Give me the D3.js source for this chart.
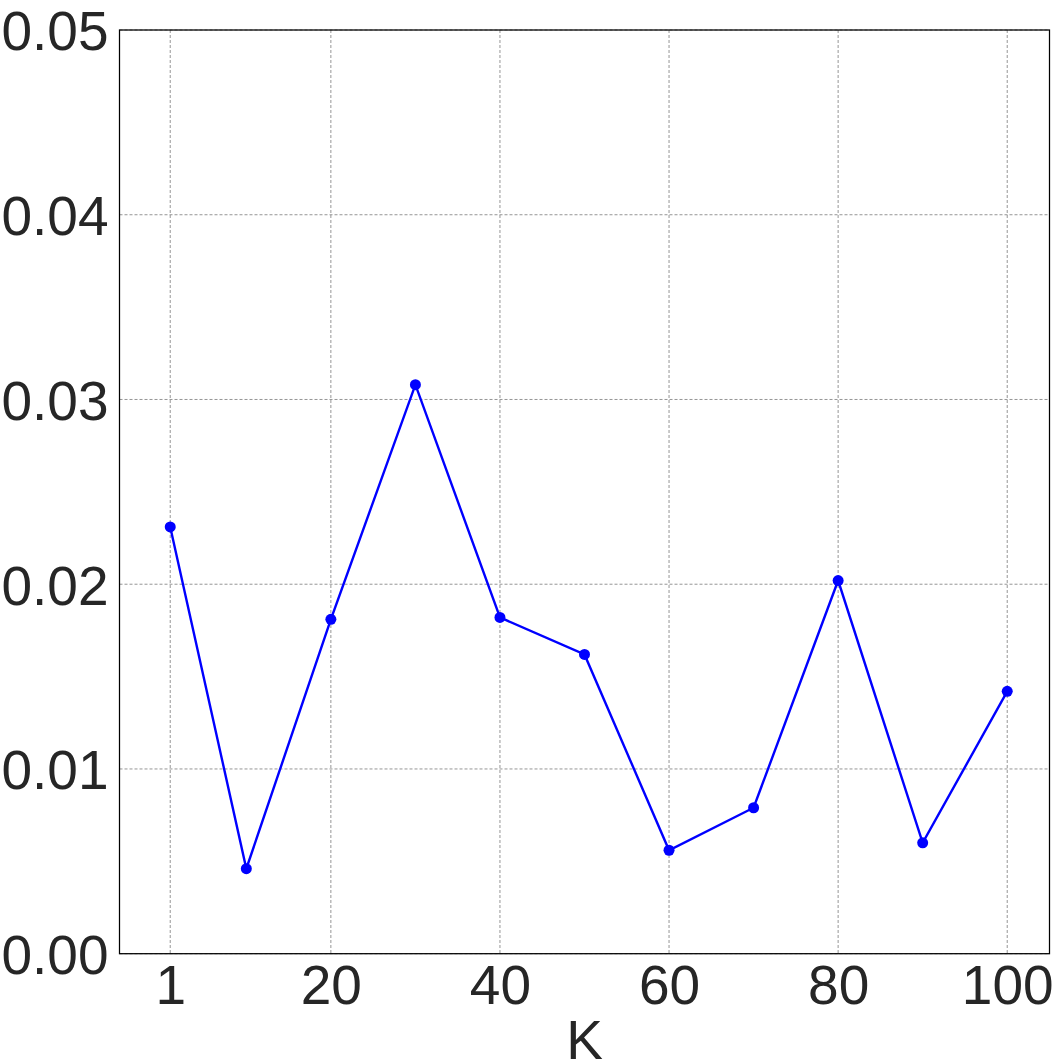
<!DOCTYPE html>
<html>
<head>
<meta charset="utf-8">
<script src="https://cdn.jsdelivr.net/npm/d3@7"></script>
<style>
  html, body { margin: 0; padding: 0; background: #fff; }
  svg { display: block; }
</style>
</head>
<body>
<svg id="chart" width="1062" height="1062"></svg>
<script>
// Data
const kValues = [1, 10, 20, 30, 40, 50, 60, 70, 80, 90, 100];
const scores  = [0.0231, 0.0046, 0.0181, 0.0308, 0.0182, 0.0162, 0.0056, 0.0079, 0.0202, 0.0060, 0.0142];
const xTicks = [1, 20, 40, 60, 80, 100];
const yTicks = [0.00, 0.01, 0.02, 0.03, 0.04, 0.05];
const xLabel = "K";

(function () {
const svg = d3.select("#chart");
const mLeft = 119.5, mRight = 1049.5, mTop = 30, mBottom = 953.7;

const x = d3.scaleLinear().domain([-5, 105]).range([mLeft, mRight]);
const y = d3.scaleLinear().domain([0, 0.05]).range([mBottom, mTop]);

const textColor = "#262626";
const fontFamily = "'Liberation Sans', Arial, sans-serif";
const fontSize = 55;

// Grid
const grid = svg.append("g");
grid.selectAll("line.vx").data(xTicks).enter().append("line")
  .attr("x1", d => x(d)).attr("x2", d => x(d))
  .attr("y1", mTop).attr("y2", mBottom)
  .attr("stroke", "#7a7a7a").attr("stroke-width", 0.8).attr("stroke-dasharray", "3,2");
grid.selectAll("line.hy").data(yTicks).enter().append("line")
  .attr("x1", mLeft).attr("x2", mRight)
  .attr("y1", d => y(d)).attr("y2", d => y(d))
  .attr("stroke", "#7a7a7a").attr("stroke-width", 0.8).attr("stroke-dasharray", "3,2");

// Axes via d3 axis (tick labels only)
const xAxis = d3.axisBottom(x).tickValues(xTicks).tickFormat(d3.format("d")).tickSize(0).tickPadding(0);
const gx = svg.append("g").attr("transform", `translate(0,${mBottom})`).call(xAxis);
gx.select(".domain").remove();
gx.selectAll("text")
  .attr("y", 50).attr("dy", 0)
  .attr("font-size", fontSize).attr("font-family", fontFamily).attr("fill", textColor);

const yAxis = d3.axisLeft(y).tickValues(yTicks).tickFormat(d3.format(".2f")).tickSize(0).tickPadding(0);
const gy = svg.append("g").attr("transform", `translate(${mLeft},0)`).call(yAxis);
gy.select(".domain").remove();
gy.selectAll("text")
  .attr("x", -11).attr("dy", "0.36em")
  .attr("font-size", fontSize).attr("font-family", fontFamily).attr("fill", textColor);

// Frame
svg.append("rect")
  .attr("x", mLeft).attr("y", mTop)
  .attr("width", mRight - mLeft).attr("height", mBottom - mTop)
  .attr("fill", "none").attr("stroke", "#000").attr("stroke-width", 1.25);

// Line
const line = d3.line().x((d, i) => x(kValues[i])).y(d => y(d));
svg.append("path").datum(scores)
  .attr("d", line).attr("fill", "none")
  .attr("stroke", "#0000ff").attr("stroke-width", 2.4);

svg.selectAll("circle.pt").data(scores).enter().append("circle")
  .attr("cx", (d, i) => x(kValues[i])).attr("cy", d => y(d))
  .attr("r", 5.5).attr("fill", "#0000ff");

// X label
svg.append("text")
  .attr("x", (mLeft + mRight) / 2).attr("y", 1059)
  .attr("text-anchor", "middle")
  .attr("font-size", fontSize).attr("font-family", fontFamily).attr("fill", textColor)
  .text(xLabel);
})();
</script>
</body>
</html>
